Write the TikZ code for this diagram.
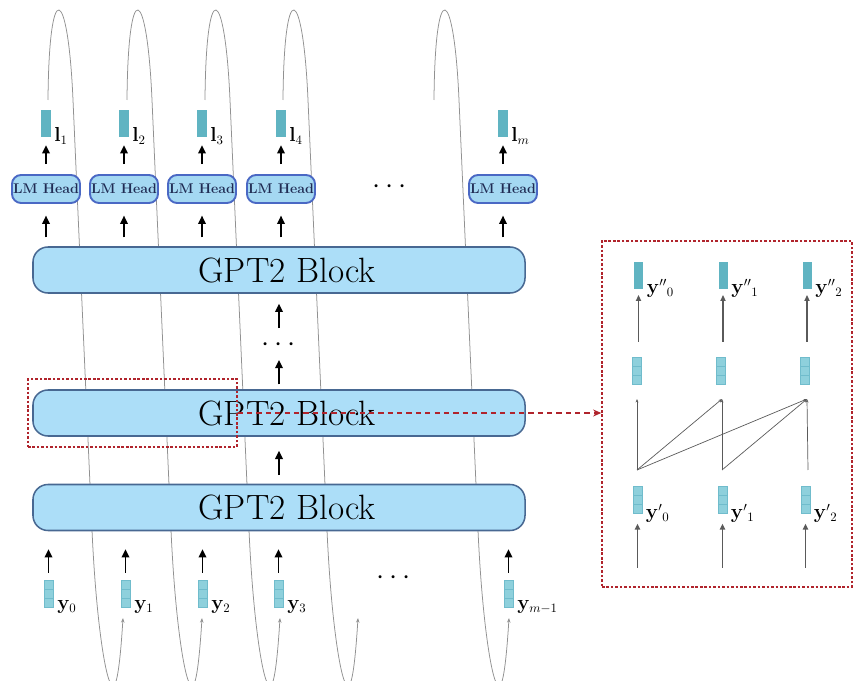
\documentclass[tikz,border=0pt]{standalone}
\usetikzlibrary{arrows.meta,calc}

\definecolor{blockfill}{RGB}{172,222,248}
\definecolor{blockedge}{RGB}{72,104,146}
\definecolor{headfill}{RGB}{164,216,242}
\definecolor{headedge}{RGB}{74,104,196}
\definecolor{headtext}{RGB}{32,44,84}
\definecolor{vecdark}{RGB}{96,180,194}
\definecolor{veclight}{RGB}{142,208,220}
\definecolor{vecline}{RGB}{112,188,204}
\definecolor{zoomred}{RGB}{176,36,44}
\definecolor{loopgray}{RGB}{145,145,145}
\definecolor{attgray}{RGB}{90,90,90}

\begin{document}
\begin{tikzpicture}[x=0.03cm,y=-0.03cm,
  gptblock/.style={draw=blockedge,fill=blockfill,line width=1.3pt,rounded corners=0.45cm,
    minimum width=14.76cm,minimum height=1.38cm,inner sep=0pt,font=\fontsize{30}{34}\selectfont},
  lmhead/.style={draw=headedge,fill=headfill,line width=1.6pt,rounded corners=0.27cm,
    minimum width=2.04cm,minimum height=0.84cm,inner sep=0pt,
    font=\fontsize{12}{13}\selectfont\bfseries,text=headtext},
  outvec/.style={fill=vecdark,minimum width=0.3cm,minimum height=0.81cm,inner sep=0pt},
  invec/.style={fill=veclight,draw=vecline,line width=0.4pt,minimum width=0.27cm,minimum height=0.81cm,inner sep=0pt,
    path picture={
      \draw[vecline,line width=0.6pt]
        ($(path picture bounding box.north west)!1/3!(path picture bounding box.south west)$) --
        ($(path picture bounding box.north east)!1/3!(path picture bounding box.south east)$)
        ($(path picture bounding box.north west)!2/3!(path picture bounding box.south west)$) --
        ($(path picture bounding box.north east)!2/3!(path picture bounding box.south east)$);}},
  veclabel/.style={anchor=base west,inner sep=0pt,font=\fontsize{16}{18}\selectfont},
  flow/.style={-{Triangle[length=7pt,width=6.5pt]},line width=1.2pt,black},
  thinflow/.style={-{Triangle[length=5pt,width=4.5pt]},line width=1pt,attgray},
  feedback/.style={-{Stealth[length=4pt,width=3pt]},loopgray,line width=0.65pt},
  attn/.style={-{Stealth[length=3pt,width=2.4pt]},attgray,line width=0.6pt},
  zoomframe/.style={draw=zoomred,line width=1.2pt,dash pattern=on 2.2pt off 1.6pt,inner sep=0pt},
  dots/.style={inner sep=0pt,font=\fontsize{24}{26}\selectfont}
]
\useasboundingbox (0,0) rectangle (854,681);

% feedback loops: each output is fed back as the next input
\foreach \s in {48,127,205,283,434}
  \draw[feedback] (\s,100) .. controls (\s+1,-25) and (\s+20,-15) .. (\s+25,100)
    -- (\s+44,530) .. controls (\s+48,620) and (\s+58,686) .. (\s+65,686)
    .. controls (\s+70,686) and (\s+73,650) .. (\s+75,618);

% transformer stack (label set a little right of centre)
\newcommand{\blocktext}{\hspace*{13.6pt}GPT2 Block}
\node[gptblock] (blk1) at (279,270) {\blocktext};
\node[gptblock] (blk2) at (279,413) {\blocktext};
\node[gptblock] (blk3) at (279,507.5) {\blocktext};

\node[dots] (md) at (279,345) {$\cdots$};
\draw[flow,shorten >=8.5pt] ([yshift=14.5pt]md.center) -- (md.center |- blk1.south);
\draw[flow,shorten <=4.25pt] (md.center |- blk2.north) -- ([yshift=-12.75pt]md.center);
\draw[flow,shorten <=8.5pt,shorten >=12pt] (279,485) coordinate (b3t) -- (b3t |- blk2.south);

% language-model heads and their outputs
\foreach \i/\x/\lab in {1/46/1,2/124/2,3/202/3,4/281/4,5/503/m}{
  \node[lmhead] (head\i) at (\x,189) {LM Head};
  \node[outvec] (l\i) at (\x,123.5) {};
  \node[veclabel] (ll\i) at ([xshift=2.5pt,yshift=-4pt]l\i.south east) {$\mathbf{l}_{\lab}$};
  \draw[flow,shorten <=8.5pt,shorten >=6.8pt] (head\i.north) -- (l\i.south);
  \draw[flow,shorten <=7.6pt,shorten >=10pt] (head\i.south |- blk1.north) -- (head\i.south);
}
\node[dots] (topdots) at (390,187) {$\cdots$};

% input tokens
\foreach \i/\x/\lab in {0/48.5/0,1/125.5/1,2/202.5/2,3/278.5/3,4/508.5/{m-1}}{
  \node[invec] (y\i) at (\x,593.5) {};
  \node[veclabel] (yl\i) at ([xshift=3.4pt,yshift=-2pt]y\i.south east) {$\mathbf{y}_{\lab}$};
  \draw[flow,shorten <=6pt,shorten >=15.3pt] (y\i.north) -- (y\i.north |- blk3.south);
}
\node[dots] (botdots) at (394,578) {$\cdots$};

% zoom onto one block
\node[zoomframe,minimum width=6.27cm,minimum height=2.04cm] (zoombox) at (132.5,413) {};
\node[zoomframe,minimum width=7.5cm,minimum height=10.38cm] (inset) at (727,414) {};
\draw[zoomred,line width=1pt,dash pattern=on 4.5pt off 3.5pt,-{Stealth[length=7pt,width=6pt]}]
  (zoombox.east) -- (zoombox.east -| inset.west);

% causal self-attention inside the block
\foreach \i/\xa/\xb/\xc in {0/638.5/637/637.5,1/723/721/722.5,2/807/805/805.5}{
  \node[outvec,minimum width=0.27cm] (yo\i) at (\xa,275.5) {};
  \node[veclabel] (yol\i) at ([xshift=3pt,yshift=-4pt]yo\i.south east) {$\mathbf{y}''{}_{\i}$};
  \node[invec] (h\i) at (\xb,371) {};
  \node[invec] (yi\i) at (\xc,500) {};
  \node[veclabel] (yil\i) at ([xshift=3pt,yshift=-4pt]yi\i.south east) {$\mathbf{y}'{}_{\i}$};
  \draw[thinflow,shorten >=5pt] (yo\i.south |- 0,342) coordinate (ua\i) -- (yo\i.south);
  \draw[thinflow,shorten >=8.5pt] (yi\i.south |- 0,568) coordinate (ba\i) -- (yi\i.south);
}
\coordinate (b0) at (637,470);
\coordinate (b1) at (722,470);
\coordinate (b2) at (808,470);
\coordinate (t0) at (637,399);
\coordinate (t1) at (722,399);
\coordinate (t2) at (807,399);
\draw[attn] (b0) -- (t0);
\draw[attn] (b0) -- (t1);
\draw[attn] (b0) -- (t2);
\draw[attn] (b1) -- (t1);
\draw[attn] (b1) -- (t2);
\draw[attn] (b2) -- (t2);
\end{tikzpicture}
\end{document}
